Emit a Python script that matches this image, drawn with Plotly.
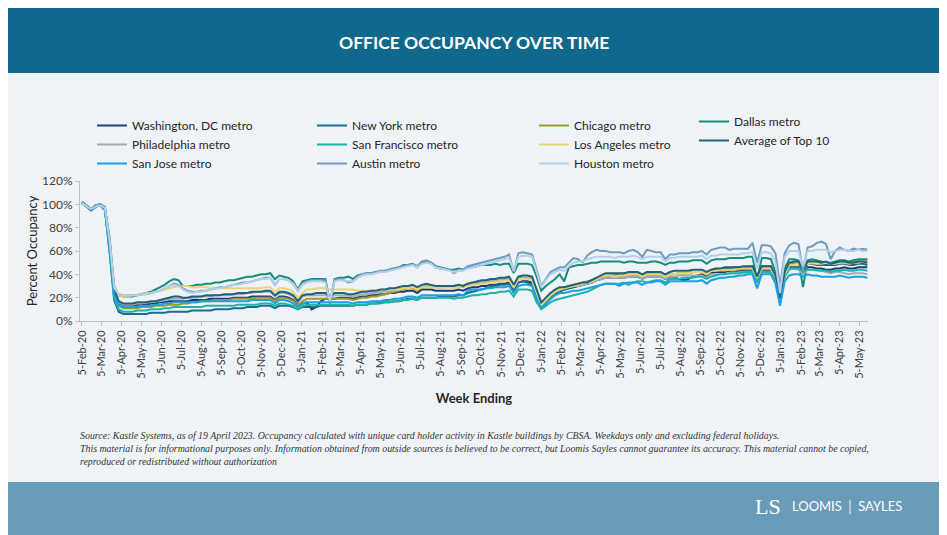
import pandas as pd
import plotly.graph_objects as go

START = "2020-02-05"  # weekly series, week ending

washington = [
    101, 98, 96, 99, 100, 96, 66, 26, 15,
    13, 13, 13, 14, 14, 14, 15, 15, 16, 16, 17, 17,
    17, 17, 17, 18, 18, 18, 18, 19, 19, 19, 19, 19, 20, 20, 20, 20, 21, 21, 21, 21, 21,
    18, 21, 21, 20, 18, 14, 15,
    16, 10, 12, 17, 19, 19,
    19, 20, 20, 20, 19, 20, 21, 21, 22, 22, 23, 23, 24, 24, 25, 25, 26, 26, 24, 27,
    27, 27, 26, 26, 26, 26, 26, 27, 26, 28, 29, 29, 30, 30, 31, 31, 32, 32, 33,
    27, 33, 34, 34, 33, 22, 13, 17, 21, 24, 26,
    27, 28, 29, 30, 31, 32, 33, 35, 36, 37, 37, 37, 37, 37, 38, 38, 38, 36, 38, 38, 38,
    38, 36, 37, 37, 36, 35, 36, 38, 39, 40, 38, 41, 42, 42, 42, 43, 43, 43, 44, 44, 44,
    36, 44, 44, 44, 36, 16, 39, 46, 46, 46, 43, 46, 46, 45, 45, 44, 44, 45, 45, 46, 45,
    45, 46, 46, 46,
]
new_york = [
    102, 99, 96, 99, 100, 96, 60, 18, 8,
    6, 6, 6, 6, 6, 6, 7, 7, 7, 7, 8, 8,
    8, 8, 8, 9, 9, 9, 9, 9, 10, 10, 10, 10, 11, 11, 11, 12, 12, 12, 13, 13, 13,
    11, 13, 13, 13, 12, 10, 12,
    12, 12, 12, 13, 13, 13,
    13, 13, 13, 13, 13, 14, 14, 14, 15, 15, 16, 16, 16, 17, 17, 18, 19, 19, 18, 20,
    20, 20, 20, 21, 21, 21, 21, 22, 22, 24, 25, 26, 27, 28, 29, 30, 31, 31, 32,
    27, 33, 34, 33, 31, 20, 11, 15, 19, 23, 25,
    27, 28, 29, 30, 31, 32, 34, 36, 38, 39, 39, 39, 40, 40, 40, 40, 40, 38, 40, 40, 40,
    40, 38, 40, 40, 41, 41, 41, 42, 42, 42, 40, 43, 44, 44, 45, 45, 46, 46, 46, 46, 47,
    38, 47, 47, 47, 36, 16, 40, 48, 49, 49, 45, 49, 49, 48, 48, 48, 48, 48, 49, 49, 48,
    48, 49, 49, 48,
]
chicago = [
    101, 98, 95, 98, 100, 96, 64, 24, 13,
    11, 11, 11, 11, 12, 12, 12, 13, 13, 13, 14, 14,
    14, 15, 15, 16, 16, 17, 17, 17, 18, 18, 18, 18, 19, 19, 19, 19, 19, 20, 20, 20, 20,
    17, 20, 20, 19, 17, 13, 17,
    19, 19, 19, 19, 19, 19,
    19, 19, 19, 19, 18, 19, 20, 20, 21, 21, 22, 23, 24, 25, 26, 27, 28, 28, 26, 29,
    29, 29, 29, 29, 29, 30, 30, 31, 30, 32, 32, 33, 33, 34, 34, 35, 35, 36, 36,
    29, 37, 37, 37, 36, 24, 12, 17, 22, 26, 28,
    29, 30, 31, 32, 33, 34, 35, 37, 38, 39, 39, 39, 39, 39, 40, 40, 40, 38, 40, 40, 40,
    40, 38, 40, 40, 41, 41, 41, 42, 42, 42, 40, 43, 43, 43, 43, 44, 44, 44, 45, 45, 45,
    37, 45, 45, 45, 37, 17, 41, 48, 49, 49, 45, 49, 49, 49, 50, 50, 49, 50, 50, 51, 50,
    51, 51, 51, 52,
]
dallas = [
    102, 99, 95, 99, 100, 97, 72, 30, 22,
    21, 21, 21, 22, 23, 24, 25, 27, 29, 31, 34, 36,
    35, 30, 30, 30, 31, 31, 32, 32, 33, 33, 34, 35, 35, 36, 37, 38, 38, 39, 40, 40, 41,
    36, 39, 38, 37, 34, 27, 34,
    35, 36, 36, 36, 36, 15,
    36, 37, 37, 38, 36, 39, 40, 41, 41, 42, 42, 43, 44, 45, 46, 48, 48, 49, 46, 50,
    51, 50, 47, 46, 45, 44, 44, 45, 44, 46, 46, 47, 48, 48, 48, 49, 48, 49, 49,
    41, 49, 49, 49, 48, 38, 26, 30, 33, 36, 40,
    34, 46, 47, 48, 48, 49, 50, 50, 51, 51, 51, 51, 51, 50, 51, 51, 50, 50, 50, 51, 51,
    50, 48, 50, 50, 51, 51, 51, 52, 52, 52, 49, 52, 53, 53, 53, 54, 54, 54, 54, 55, 55,
    35, 54, 54, 53, 42, 22, 45, 53, 53, 52, 29, 52, 53, 52, 51, 50, 50, 51, 52, 52, 51,
    52, 53, 53, 53,
]
philadelphia = [
    102, 99, 96, 99, 100, 97, 70, 28, 16,
    14, 14, 14, 15, 15, 16, 16, 17, 17, 18, 19, 19,
    19, 19, 20, 20, 20, 21, 21, 21, 22, 22, 22, 22, 23, 23, 23, 24, 24, 25, 25, 25, 25,
    21, 24, 24, 23, 21, 16, 21,
    22, 22, 22, 22, 22, 21,
    22, 22, 22, 22, 21, 22, 23, 23, 24, 24, 25, 25, 26, 26, 27, 28, 29, 29, 27, 30,
    30, 30, 29, 29, 29, 29, 29, 30, 29, 31, 32, 32, 33, 34, 34, 35, 35, 36, 36,
    29, 36, 37, 37, 36, 24, 14, 18, 22, 25, 27,
    28, 29, 30, 30, 31, 32, 33, 35, 36, 37, 37, 37, 37, 37, 38, 38, 38, 36, 38, 38, 38,
    38, 36, 38, 38, 39, 39, 39, 39, 39, 39, 37, 40, 40, 40, 40, 41, 41, 41, 41, 42, 42,
    34, 42, 42, 42, 35, 17, 38, 44, 45, 44, 40, 44, 44, 43, 43, 42, 41, 42, 42, 41, 40,
    41, 41, 41, 40,
]
san_francisco = [
    102, 99, 95, 98, 99, 95, 60, 20, 10,
    8, 8, 8, 9, 9, 9, 10, 10, 10, 11, 11, 12,
    12, 12, 12, 12, 12, 12, 13, 13, 13, 13, 13, 13, 13, 14, 14, 14, 14, 14, 15, 15, 15,
    13, 15, 15, 14, 13, 10, 13,
    14, 14, 14, 14, 14, 14,
    14, 14, 14, 14, 13, 14, 14, 14, 15, 15, 15, 16, 16, 17, 17, 18, 18, 19, 18, 20,
    20, 20, 20, 20, 20, 20, 19, 20, 20, 21, 22, 22, 23, 23, 24, 24, 25, 25, 26,
    21, 27, 27, 27, 26, 16, 10, 13, 16, 18, 19,
    20, 21, 22, 23, 24, 25, 27, 29, 31, 32, 32, 32, 32, 33, 31, 33, 34, 34, 33, 34, 35,
    35, 33, 36, 36, 36, 37, 37, 37, 38, 38, 36, 38, 39, 40, 40, 41, 41, 41, 42, 42, 42,
    33, 42, 42, 42, 34, 15, 38, 45, 45, 45, 42, 44, 44, 44, 43, 43, 42, 43, 43, 44, 43,
    43, 44, 44, 43,
]
los_angeles = [
    101, 98, 95, 98, 99, 96, 68, 30, 22,
    21, 21, 22, 22, 23, 24, 24, 25, 26, 27, 28, 29,
    30, 30, 30, 29, 29, 29, 29, 28, 28, 28, 28, 28, 28, 28, 28, 28, 28, 28, 28, 29, 29,
    25, 28, 28, 27, 25, 20, 24,
    27, 27, 28, 28, 28, 27,
    27, 27, 27, 27, 27, 26, 26, 26, 26, 26, 27, 27, 27, 27, 27, 28, 28, 29, 27, 29,
    29, 29, 29, 29, 29, 29, 28, 29, 30, 30, 31, 31, 32, 32, 33, 33, 34, 34, 35,
    29, 36, 36, 36, 35, 24, 13, 18, 22, 25, 27,
    28, 29, 30, 31, 32, 33, 34, 36, 38, 39, 39, 38, 39, 39, 40, 40, 40, 38, 40, 40, 40,
    40, 38, 40, 40, 41, 41, 41, 42, 42, 42, 40, 43, 43, 44, 44, 44, 44, 45, 45, 45, 45,
    37, 45, 45, 45, 38, 18, 40, 48, 48, 49, 47, 49, 50, 49, 49, 50, 49, 49, 50, 50, 49,
    50, 50, 51, 50,
]
average_top10 = [
    101, 98, 95, 98, 99, 96, 68, 27, 17,
    15, 15, 15, 16, 16, 16, 17, 17, 18, 19, 20, 21,
    21, 20, 20, 21, 21, 21, 22, 22, 22, 22, 23, 23, 23, 24, 24, 24, 25, 25, 25, 26, 26,
    22, 25, 25, 24, 22, 17, 22,
    23, 23, 24, 24, 24, 21,
    24, 24, 24, 23, 23, 24, 25, 25, 26, 26, 27, 27, 28, 28, 29, 30, 30, 31, 29, 31,
    32, 31, 30, 30, 30, 30, 30, 31, 30, 32, 33, 34, 35, 35, 36, 36, 37, 37, 38,
    31, 38, 39, 39, 38, 27, 16, 20, 24, 27, 29,
    29, 30, 31, 32, 33, 33, 35, 37, 39, 41, 41, 41, 41, 41, 42, 42, 42, 40, 42, 42, 42,
    42, 40, 42, 43, 43, 43, 43, 44, 44, 44, 42, 44, 45, 45, 46, 46, 46, 46, 47, 47, 47,
    38, 47, 47, 47, 39, 19, 42, 50, 51, 51, 44, 51, 51, 51, 50, 51, 49, 50, 51, 51, 50,
    50, 51, 51, 50,
]
san_jose = [
    101, 98, 95, 99, 99, 95, 62, 22, 14,
    12, 12, 12, 12, 13, 13, 13, 14, 14, 15, 15, 16,
    16, 16, 16, 16, 16, 17, 17, 17, 17, 17, 17, 17, 17, 17, 17, 17, 18, 18, 18, 18, 18,
    15, 18, 18, 17, 15, 12, 15,
    16, 16, 16, 16, 16, 16,
    16, 16, 16, 16, 15, 16, 16, 16, 17, 17, 17, 18, 18, 19, 19, 20, 21, 21, 20, 22,
    22, 22, 22, 22, 22, 22, 22, 23, 22, 26, 27, 27, 27, 28, 28, 29, 29, 29, 30,
    24, 30, 31, 31, 30, 19, 11, 15, 19, 22, 24,
    24, 25, 26, 26, 27, 28, 29, 30, 31, 32, 32, 32, 30, 32, 33, 33, 33, 31, 33, 33, 34,
    34, 31, 34, 34, 34, 34, 34, 34, 34, 35, 32, 35, 36, 37, 37, 38, 38, 39, 39, 40, 40,
    28, 40, 40, 40, 32, 13, 34, 39, 40, 40, 38, 40, 39, 39, 38, 38, 38, 38, 39, 38, 37,
    38, 38, 38, 37,
]
austin = [
    101, 99, 96, 99, 100, 98, 68, 28, 23,
    22, 22, 22, 22, 23, 23, 24, 25, 26, 28, 30, 32,
    31, 28, 26, 25, 25, 26, 26, 27, 28, 29, 29, 30, 31, 32, 33, 33, 34, 35, 36, 37, 37,
    31, 36, 36, 35, 32, 26, 32,
    34, 35, 35, 35, 35, 16,
    35, 36, 35, 33, 34, 38, 40, 41, 41, 42, 43, 43, 44, 45, 46, 47, 48, 49, 47, 51,
    52, 50, 46, 45, 45, 44, 41, 44, 44, 47, 48, 49, 50, 51, 52, 53, 54, 55, 57,
    42, 58, 59, 58, 57, 44, 30, 36, 42, 44, 46,
    46, 50, 54, 53, 50, 56, 59, 61, 60, 60, 59, 59, 59, 58, 60, 61, 59, 55, 61, 60, 59,
    59, 53, 57, 57, 58, 58, 58, 59, 59, 60, 57, 61, 62, 63, 63, 61, 62, 62, 62, 62, 67,
    50, 65, 65, 64, 58, 30, 58, 65, 67, 66, 43, 63, 64, 67, 68, 66, 53, 60, 63, 61, 60,
    62, 61, 62, 61,
]
houston = [
    101, 98, 96, 98, 99, 97, 70, 29, 23,
    22, 22, 22, 22, 23, 23, 24, 25, 26, 28, 30, 31,
    30, 27, 25, 24, 25, 25, 26, 27, 28, 28, 29, 30, 31, 31, 32, 33, 34, 35, 36, 36, 37,
    31, 36, 36, 35, 32, 26, 31,
    33, 34, 34, 34, 33, 17,
    34, 35, 35, 34, 34, 37, 39, 40, 40, 41, 42, 42, 43, 44, 45, 46, 47, 48, 46, 49,
    50, 49, 46, 45, 44, 43, 42, 43, 43, 45, 46, 47, 48, 49, 50, 51, 52, 53, 54,
    43, 55, 56, 56, 55, 42, 29, 35, 40, 42, 44,
    43, 47, 50, 51, 51, 53, 54, 55, 55, 55, 55, 54, 55, 55, 55, 56, 55, 53, 55, 55, 55,
    55, 51, 54, 54, 55, 55, 55, 55, 55, 56, 53, 56, 56, 57, 57, 57, 57, 57, 58, 58, 59,
    45, 59, 59, 58, 50, 24, 55, 60, 60, 60, 47, 60, 60, 61, 61, 61, 59, 60, 61, 61, 60,
    60, 61, 60, 60,
]

# name, values, colour, legend column
series = [
    ("Washington, DC metro", washington, "#1f3b73", "legend"),
    ("New York metro", new_york, "#1b6b8c", "legend2"),
    ("Chicago metro", chicago, "#9d9a2c", "legend3"),
    ("Dallas metro", dallas, "#14907a", "legend4"),
    ("Philadelphia metro", philadelphia, "#a5acb5", "legend"),
    ("San Francisco metro", san_francisco, "#1fb5a6", "legend2"),
    ("Los Angeles metro", los_angeles, "#e8d672", "legend3"),
    ("Average of Top 10", average_top10, "#236279", "legend4"),
    ("San Jose metro", san_jose, "#1ba1e2", "legend"),
    ("Austin metro", austin, "#6e9dbd", "legend2"),
    ("Houston metro", houston, "#b5cfe8", "legend3"),
]

BG = "#eff3f8"
FONT = "Lato, 'Open Sans', sans-serif"

fig = go.Figure()
for name, values, color, leg in series:
    weeks = pd.date_range(START, periods=len(values), freq="7D")
    fig.add_trace(go.Scatter(
        x=weeks, y=values, mode="lines", name=name, legend=leg,
        line=dict(color=color, width=2),
    ))

# the page body has an 8px margin; work in page pixels and convert
OFF = 8
W, H = 947 - OFF, 535 - OFF
PL, PR, PT, PB = 80, 868, 181, 321  # plot area in page pixels


def px(x):
    return (x - PL) / (PR - PL)


def py(y):
    return (PB - y) / (PB - PT)


fig.add_shape(type="rect", xref="paper", yref="paper", x0=px(0), x1=px(960), y0=py(73), y1=py(-10),
              fillcolor="#10698c", line_width=0, layer="below")
fig.add_shape(type="rect", xref="paper", yref="paper", x0=px(0), x1=px(960), y0=py(545), y1=py(482),
              fillcolor="#6a9bb8", line_width=0, layer="below")

fig.add_annotation(xref="paper", yref="paper", x=px(474), y=py(42), xanchor="center", yanchor="middle",
                   showarrow=False, text="<b>OFFICE OCCUPANCY OVER TIME</b>",
                   font=dict(family=FONT, size=17.5, color="white"))

footer = ("Source: Kastle Systems, as of 19 April 2023. Occupancy calculated with unique card holder activity "
          "in Kastle buildings by CBSA. Weekdays only and excluding federal holidays.<br>"
          "This material is for informational purposes only. Information obtained from outside sources is believed "
          "to be correct, but Loomis Sayles cannot guarantee its accuracy. This material cannot be copied,<br>"
          "reproduced or redistributed without authorization")
fig.add_annotation(xref="paper", yref="paper", x=px(78), y=py(428), xanchor="left", yanchor="top",
                   showarrow=False, align="left", text="<i>" + footer + "</i>",
                   font=dict(family="'Liberation Serif', serif", size=9.9, color="#333333"))

# logo: monogram plus wordmark
fig.add_annotation(xref="paper", yref="paper", x=px(768), y=py(507), xanchor="center", yanchor="middle",
                   showarrow=False, text="LS",
                   font=dict(family="'Liberation Serif', serif", size=22, color="white"))
fig.add_annotation(xref="paper", yref="paper", x=px(790), y=py(507), xanchor="left", yanchor="middle",
                   showarrow=False, text="LOOMIS │ SAYLES", font=dict(family=FONT, size=13, color="white"))

leg_common = dict(bgcolor="rgba(0,0,0,0)", font=dict(family=FONT, size=12, color="#262626"),
                  xanchor="left", yanchor="top", tracegroupgap=0, itemwidth=30)
fig.update_layout(
    legend=dict(x=px(92), y=py(111), **leg_common),
    legend2=dict(x=px(312), y=py(111), **leg_common),
    legend3=dict(x=px(534), y=py(111), **leg_common),
    legend4=dict(x=px(694), y=py(107), **leg_common),
)

fig.update_layout(
    width=W, height=H,
    margin=dict(l=PL - OFF, r=W - (PR - OFF), t=PT - OFF, b=H - (PB - OFF)),
    paper_bgcolor=BG, plot_bgcolor=BG,
    font=dict(family=FONT, color="#404040"),
    showlegend=True,
)
fig.update_xaxes(
    type="date", range=["2020-02-02", "2023-05-18"],
    tick0="2020-02-05", dtick="M1", tickformat="%-d-%b-%y", tickangle=-90,
    tickfont=dict(size=11, color="#404040"),
    showgrid=False, zeroline=False, showline=True, linecolor="#bfbfbf", linewidth=1,
    ticks="outside", ticklen=4, tickcolor="#bfbfbf",
    title=dict(text="<b>Week Ending</b>", font=dict(size=13, color="#262626"), standoff=16),
)
fig.update_yaxes(
    range=[0, 120], dtick=20, ticksuffix="%",
    tickfont=dict(size=12, color="#404040"),
    showgrid=False, zeroline=False, showline=True, linecolor="#bfbfbf", linewidth=1,
    ticks="outside", ticklen=4, tickcolor="#bfbfbf",
    title=dict(text="Percent Occupancy", font=dict(size=13, color="#262626"), standoff=1),
)

fig.write_html("out.html")
